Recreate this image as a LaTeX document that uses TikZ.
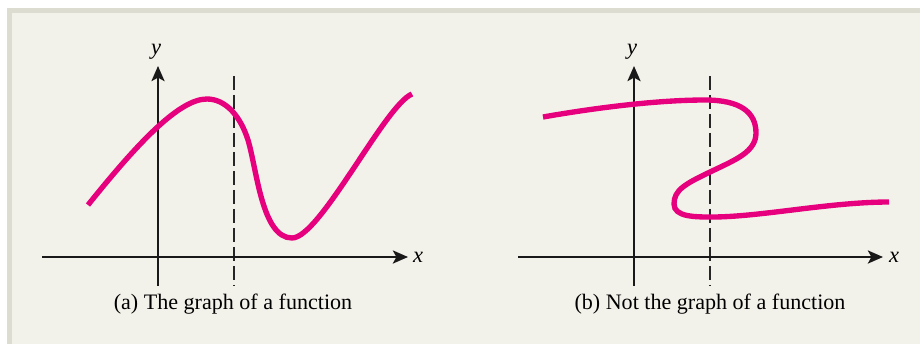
\documentclass[tikz,border=0pt]{standalone}
\usepackage{fontspec}
\setmainfont{Liberation Serif}
\usetikzlibrary{arrows.meta,positioning}

\definecolor{panelbg}{RGB}{243,242,234}
\definecolor{panelrim}{RGB}{221,220,208}
\definecolor{curvepink}{RGB}{230,0,126}

\begin{document}
\begin{tikzpicture}[
  x=0.025cm, y=-0.025cm,
  >={Stealth[length=0.38cm,width=0.33cm,inset=0.09cm]},
  axis/.style={draw=black!90, line width=1.4pt, ->},
  guide/.style={draw=black!85, line width=0.9pt, dash pattern=on 10pt off 3.5pt},
  crv/.style={draw=curvepink, line width=3.8pt, line cap=butt},
  lbl/.style={font=\fontsize{16}{18}\selectfont\itshape, inner sep=0pt},
  captxt/.style={font=\fontsize{15.7}{19}\selectfont, inner sep=0pt}
]

% Rahmen
\useasboundingbox (0,0) rectangle (920,344);
\fill[white] (0,0) rectangle (920,344);
\fill[panelrim] (7,8) rectangle (920,344);
\fill[panelbg] (12,13) rectangle (920,344);

% -- (a) Funktion --
\coordinate (a_ylo) at (158,286);
\coordinate (a_yhi) at (158,66);
\coordinate (a_xlo) at (42,257);
\coordinate (a_xhi) at (408,257);
\node[lbl] (a_ylab) at (156,52) {y};
\node[lbl] (a_xlab) at (418,257) {x};

\draw[guide] (234,76) -- (234,286);
\draw[axis] (a_xlo) -- (a_xhi);
\draw[axis] (a_ylo) -- (a_yhi);

\draw[crv] (88,205) .. controls (140,140) and (180,99) .. (207,99)
  .. controls (225,99) and (240,115) .. (248,140)
  .. controls (257,170) and (262,238) .. (292,238)
  .. controls (320,238) and (385,105) .. (412,94);

\node[captxt] (a_cap) at (233,304) {(a) The graph of a function};

% -- (b) keine Funktion --
\coordinate (b_ylo) at (634,286);
\coordinate (b_yhi) at (634,66);
\coordinate (b_xlo) at (518,257);
\coordinate (b_xhi) at (883,257);
\node[lbl] (b_ylab) at (632,52) {y};
\node[lbl] (b_xlab) at (894,257) {x};

\draw[guide] (710,76) -- (710,286);
\draw[axis] (b_xlo) -- (b_xhi);
\draw[axis] (b_ylo) -- (b_yhi);

\draw[crv] (543,117) .. controls (600,107) and (660,100) .. (705,100)
  .. controls (740,100) and (756,112) .. (756,133)
  .. controls (756,152) and (735,160) .. (710,172)
  .. controls (685,184) and (674,190) .. (674,204)
  .. controls (674,217) and (695,217) .. (712,217)
  .. controls (760,217) and (830,202) .. (889,202);

\node[captxt] (b_cap) at (710,304) {(b) Not the graph of a function};

\end{tikzpicture}
\end{document}
